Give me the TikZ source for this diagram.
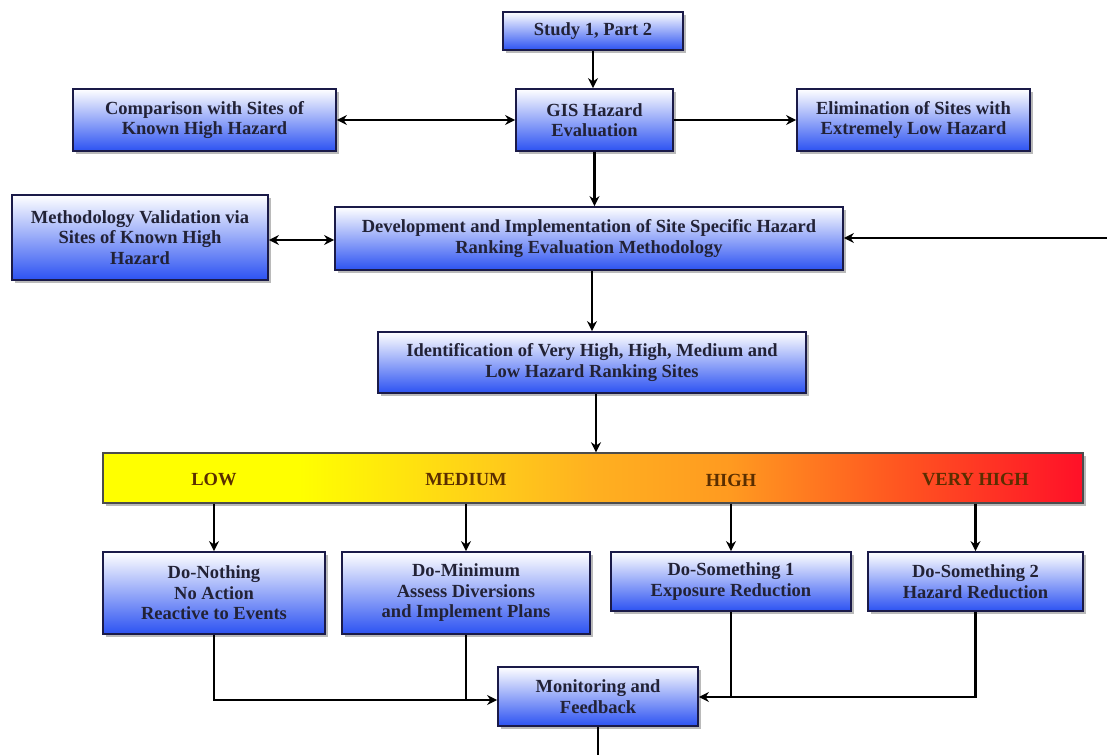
\documentclass[tikz,border=0pt]{standalone}
\usepackage{fontspec}
\setmainfont{Liberation Serif}
\usetikzlibrary{arrows.meta,shadows,calc}
\definecolor{boxline}{HTML}{1A1A48}
\definecolor{boxblue}{HTML}{2C52F2}
\definecolor{boxtext}{HTML}{222236}
\definecolor{bartext}{HTML}{5A2E00}
\definecolor{hzY}{HTML}{FFFF00}
\definecolor{hzO1}{HTML}{FFCC1A}
\definecolor{hzO2}{HTML}{FFB020}
\definecolor{hzO3}{HTML}{FF9A20}
\definecolor{hzO4}{HTML}{FF5A20}
\definecolor{hzR}{HTML}{FF1028}
\pgfdeclarehorizontalshading{hazard}{100bp}{color(0bp)=(hzY); color(25bp)=(hzY); color(35bp)=(hzY); color(45bp)=(hzO1); color(50bp)=(hzO2); color(57bp)=(hzO3); color(65bp)=(hzO4); color(75bp)=(hzR); color(100bp)=(hzR)}
\tikzset{
  box/.style={draw=boxline, line width=1.8pt, top color=white, bottom color=boxblue,
    text=boxtext, font=\fontsize{18.5}{20.5}\selectfont\bfseries, align=center, inner sep=0pt,
    drop shadow={shadow xshift=3pt, shadow yshift=-3pt, fill=black!45, opacity=0.6}},
  hazbar/.style={draw=black!70, line width=1.4pt, shading=hazard, inner sep=0pt,
    drop shadow={shadow xshift=3pt, shadow yshift=-3pt, fill=black!45, opacity=0.6}},
  barlbl/.style={text=bartext, font=\fontsize{18.5}{20}\selectfont\bfseries, inner sep=0pt},
  conn/.style={line width=2.6pt, draw=black},
  arr/.style={conn, -{Stealth[length=10pt,width=10pt]}},
  darr/.style={conn, {Stealth[length=10pt,width=10pt]}-{Stealth[length=10pt,width=10pt]}},
}
\begin{document}
\begin{tikzpicture}[x=1pt,y=-1pt]
\useasboundingbox[fill=white] (0,0) rectangle (1107,755);

% boxes
\node[box, minimum width=180pt, minimum height=38pt] (study) at (593,31) {Study 1, Part 2};
\node[box, minimum width=157pt, minimum height=62pt] (gis) at (594.5,120) {GIS Hazard\\Evaluation};
\node[box, minimum width=263pt, minimum height=62pt] (comp) at (204.5,120) {Comparison with Sites of\\Known High Hazard};
\node[box, minimum width=233pt, minimum height=62pt] (elim) at (913.5,120) {Elimination of Sites with\\Extremely Low Hazard};
\node[box, minimum width=256pt, minimum height=85pt] (meth) at (140,237.5) {Methodology Validation via\\Sites of Known High\\Hazard};
\node[box, minimum width=508pt, minimum height=63pt] (dev) at (589,238.5) {Development and Implementation of Site Specific Hazard\\Ranking Evaluation Methodology};
\node[box, minimum width=428pt, minimum height=61pt] (ident) at (592,362.5) {Identification of Very High, High, Medium and\\Low Hazard Ranking Sites};
\node[hazbar, minimum width=980pt, minimum height=50pt] (bar) at (593,478) {};
\node[box, minimum width=222pt, minimum height=82pt] (nothing) at (214,593) {Do-Nothing\\No Action\\Reactive to Events};
\node[box, minimum width=248pt, minimum height=82pt] (minimum) at (466,593) {Do-Minimum\\Assess Diversions\\and Implement Plans};
\node[box, minimum width=240pt, minimum height=59pt] (some1) at (731,581.5) {Do-Something 1\\Exposure Reduction};
\node[box, minimum width=215pt, minimum height=59pt] (some2) at (975.5,581.5) {Do-Something 2\\Hazard Reduction};
\node[box, minimum width=200pt, minimum height=59pt] (mon) at (598,696.5) {Monitoring and\\Feedback};

% bar labels
\node[barlbl] (lLow) at ([yshift=-2pt]bar.center -| nothing) {LOW};
\node[barlbl] (lMed) at ([yshift=-2pt]bar.center -| minimum) {MEDIUM};
\node[barlbl] (lHigh) at ([yshift=-2pt]bar.center -| some1) {HIGH};
\node[barlbl] (lVery) at ([yshift=-2pt]bar.center -| some2) {VERY HIGH};

% helper coordinates
\coordinate (xIB) at (596,0);
\coordinate (yMD) at (0,240);
\coordinate (jL) at (0,700);
\coordinate (jR) at (0,697);
\coordinate (fbR) at (1107,238);
\coordinate (fbB) at (598,755);

% connectors
\draw[arr] (study.south) -- (study.south |- gis.north);
\draw[darr] (comp.east) -- (gis.west);
\draw[arr] (gis.east) -- (elim.west |- gis.east);
\draw[arr] (gis.south) -- (gis.south |- dev.north);
\draw[darr] (meth.east |- yMD) -- (dev.west |- yMD);
\draw[arr] (fbR) -- (dev.east |- fbR);
\draw[arr] (dev.south -| ident) -- (ident.north);
\draw[arr] (ident.south -| xIB) -- (bar.north -| xIB);
\draw[arr] (bar.south -| nothing) -- (nothing.north);
\draw[arr] (bar.south -| minimum) -- (minimum.north);
\draw[arr] (bar.south -| some1) -- (some1.north);
\draw[arr] (bar.south -| some2) -- (some2.north);
\draw[arr] (nothing.south) |- (mon.west |- jL);
\draw[conn] (minimum.south) -- (minimum.south |- jL);
\draw[arr] (some2.south) |- (mon.east |- jR);
\draw[conn] (some1.south) -- (some1.south |- jR);
\draw[conn] (mon.south) -- (fbB);
\end{tikzpicture}
\end{document}
